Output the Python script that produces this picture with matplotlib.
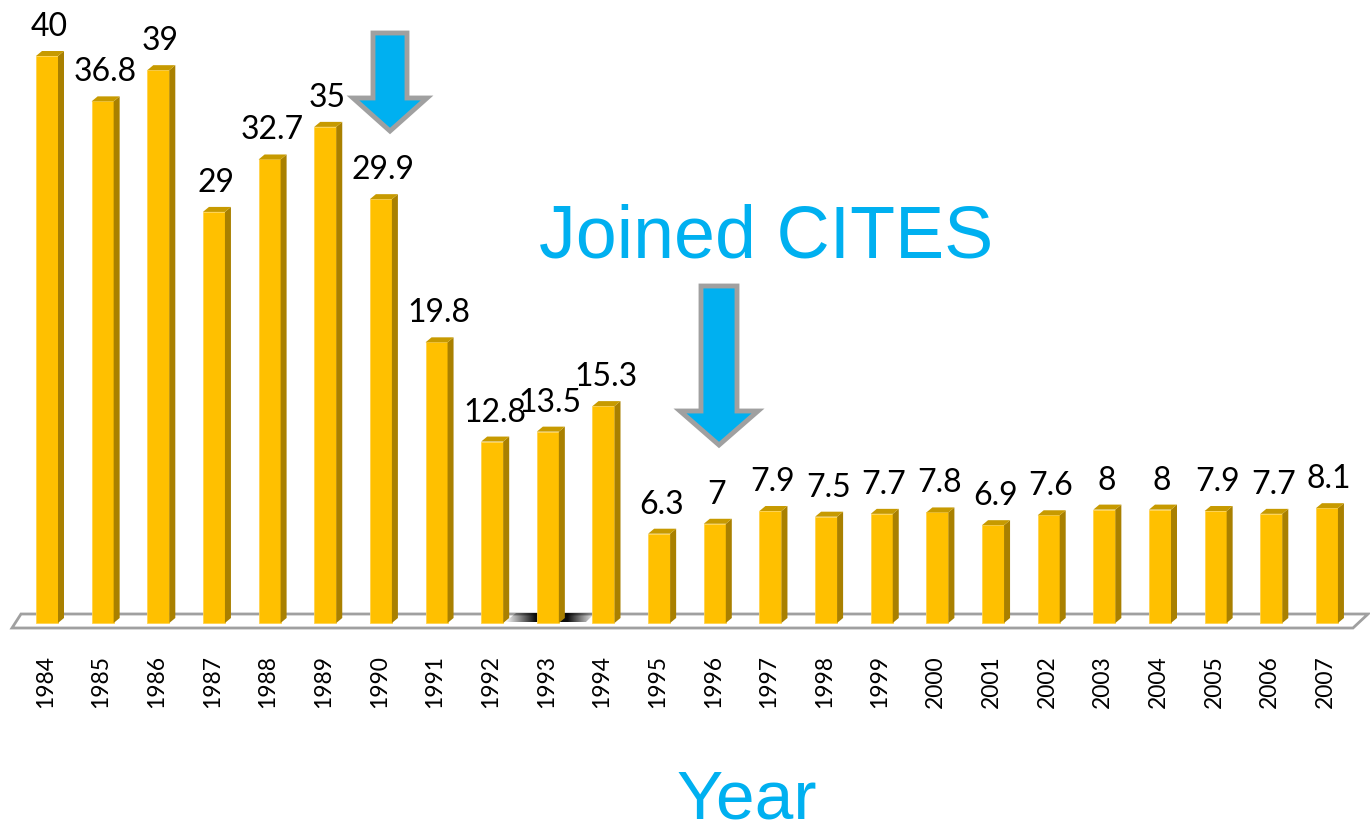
import matplotlib
matplotlib.use("Agg")
import matplotlib.pyplot as plt
from matplotlib.patches import Polygon
import numpy as np

years = [str(y) for y in range(1984, 2008)]
values = [40, 36.8, 39, 29, 32.7, 35, 29.9, 19.8, 12.8, 13.5, 15.3, 6.3, 7,
          7.9, 7.5, 7.7, 7.8, 6.9, 7.6, 8, 8, 7.9, 7.7, 8.1]
value_labels = ["40", "36.8", "39", "29", "32.7", "35", "29.9", "19.8", "12.8",
                "13.5", "15.3", "6.3", "7", "7.9", "7.5", "7.7", "7.8", "6.9",
                "7.6", "8", "8", "7.9", "7.7", "8.1"]
annotation_text = "Joined CITES"
xlabel_text = "Year"

W, H = 1370, 830
X0, DX = 47.0, 55.65      # pixel centre of first bar, spacing
Y0, DY = 623.0, 14.175    # baseline pixel, pixels per unit


def px(x):
    return (x - X0) / DX


def py(y):
    return (Y0 - y) / DY


fig = plt.figure(figsize=(W / 100, H / 100), dpi=100)
ax = fig.add_axes([0, 0, 1, 1])
ax.set_xlim(px(0), px(W))
ax.set_ylim(py(H), py(0))
ax.axis("off")

FRONT = "#FFC000"
SIDE = "#A98000"
TOP = "#C79A00"
CYAN = "#00B0F0"
GRAY = "#A0A0A0"

# floor
floor = Polygon([(px(12), py(628)), (px(1353), py(628)),
                 (px(1368), py(614)), (px(21), py(614))],
                closed=True, facecolor="white", edgecolor=GRAY, lw=2, zorder=1)
ax.add_patch(floor)

# dark gradient shadow on the floor near 1993
n = 200
t = np.linspace(505, 595, n)
alpha = np.clip(np.minimum((t - 505) / 30.0, (595 - t) / 28.0), 0, 1) * 0.95
img = np.zeros((2, n, 4))
img[..., 3] = alpha[None, :]
clip = Polygon([(px(505), py(622)), (px(516), py(613)),
                (px(595), py(613)), (px(586), py(622))],
               closed=True, facecolor="none", edgecolor="none",
               transform=ax.transData)
ax.add_patch(clip)
im = ax.imshow(img, extent=(px(505), px(595), py(623), py(612)),
               aspect="auto", interpolation="bilinear", zorder=1.5)
im.set_clip_path(clip)

bw = 22 / DX
ddx = 6 / DX
ddy = 5 / DY
xs = list(range(len(years)))
ax.bar(xs, values, width=bw, color=FRONT, edgecolor="#FFD24D", lw=0.6, zorder=3)
for x, v in zip(xs, values):
    r = x + bw / 2
    l = x - bw / 2
    ax.add_patch(Polygon([(r, 0), (r + ddx, ddy), (r + ddx, v + ddy), (r, v)],
                         closed=True, facecolor=SIDE, edgecolor="none", zorder=3))
    ax.add_patch(Polygon([(l, v), (r, v), (r + ddx, v + ddy), (l + ddx, v + ddy)],
                         closed=True, facecolor=TOP, edgecolor="none", zorder=3))

# value labels
for x, v, lab in zip(xs, values, value_labels):
    ax.text(x + 0.04, v + 14 / DY, lab, ha="center", va="bottom",
            fontsize=23, family="Lato", color="black", zorder=5)

# year labels
for x, y in zip(xs, years):
    ax.text(x - 0.03, py(655), y, rotation=90, ha="center", va="top",
            fontsize=16.5, family="Lato", color="black")


def arrow(cx, top, shaft_w, head_base, head_w, tip):
    pts = [(cx - shaft_w / 2, top), (cx + shaft_w / 2, top),
           (cx + shaft_w / 2, head_base), (cx + head_w / 2, head_base),
           (cx, tip), (cx - head_w / 2, head_base),
           (cx - shaft_w / 2, head_base)]
    ax.add_patch(Polygon([(px(a), py(b)) for a, b in pts], closed=True,
                         facecolor=CYAN, edgecolor=GRAY, lw=3.5,
                         joinstyle="miter", zorder=6))


arrow(390, 33, 34, 98, 74, 131)
arrow(719, 286, 36, 411, 78, 445)

ax.text(px(766), py(258), annotation_text, ha="center", va="baseline",
        fontsize=53, family="Liberation Sans", color=CYAN)
ax.text(px(747), py(818), xlabel_text, ha="center", va="baseline",
        fontsize=50, family="Liberation Sans", color=CYAN)

fig.savefig("out.png", dpi=100)
